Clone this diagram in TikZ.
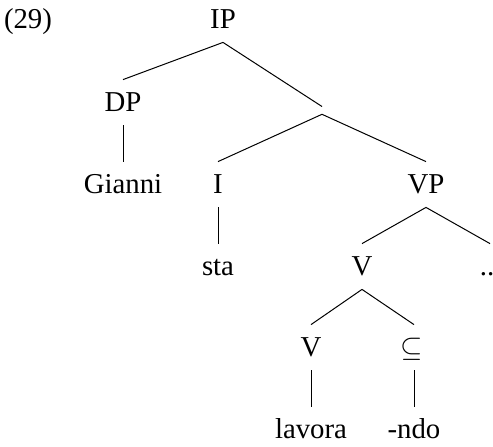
\documentclass[tikz,border=0pt]{standalone}
\usepackage{fontspec}
\setmainfont{Liberation Serif}
\begin{document}
\begin{tikzpicture}[x=0.5pt,y=-0.5pt,
  lab/.style={anchor=base,inner sep=0pt,text height=15.5pt,text depth=7pt,font=\fontsize{14.4pt}{17pt}\selectfont},
  br/.style={line width=0.5pt}]
\useasboundingbox (0,0) rectangle (493,446);
\node[lab] (ex) at (28,28) {(29)};
\node[lab] (IP) at (223,28) {IP};
\node[lab] (DP) at (123,111) {DP};
\node[inner sep=0pt,minimum height=3.5pt,minimum width=0pt] (X) at (322,110.4) {};
\node[lab] (Gianni) at (123,193) {Gianni};
\node[lab] (I) at (218,193) {I};
\node[lab] (VP) at (426,193) {VP};
\node[lab] (sta) at (218,275) {sta};
\node[lab] (V1) at (362,275) {V};
\node[lab] (dots) at (487,275) {..};
\node[lab] (V2) at (311,356) {V};
\node[lab] (sub) at (412,356) {$\subseteq$};
\node[lab] (lavora) at (311,438) {lavora};
\node[lab] (ndo) at (414,438) {-ndo};
\draw[br] (IP.south) -- (DP.north);
\draw[br] (IP.south) -- (X.north);
\draw[br] (DP.south) -- (Gianni.north);
\draw[br] (X.south) -- (I.north);
\draw[br] (X.south) -- (VP.north);
\draw[br] (I.south) -- (sta.north);
\draw[br] (VP.south) -- (V1.north);
\draw[br] (VP.south) -- ([xshift=1.5pt]dots.north);
\draw[br] (V1.south) -- (V2.north);
\draw[br] (V1.south) -- ([xshift=1pt]sub.north);
\draw[br] (V2.south) -- (lavora.north);
\draw[br] ([xshift=1pt]sub.south) -- (ndo.north);
\end{tikzpicture}
\end{document}
